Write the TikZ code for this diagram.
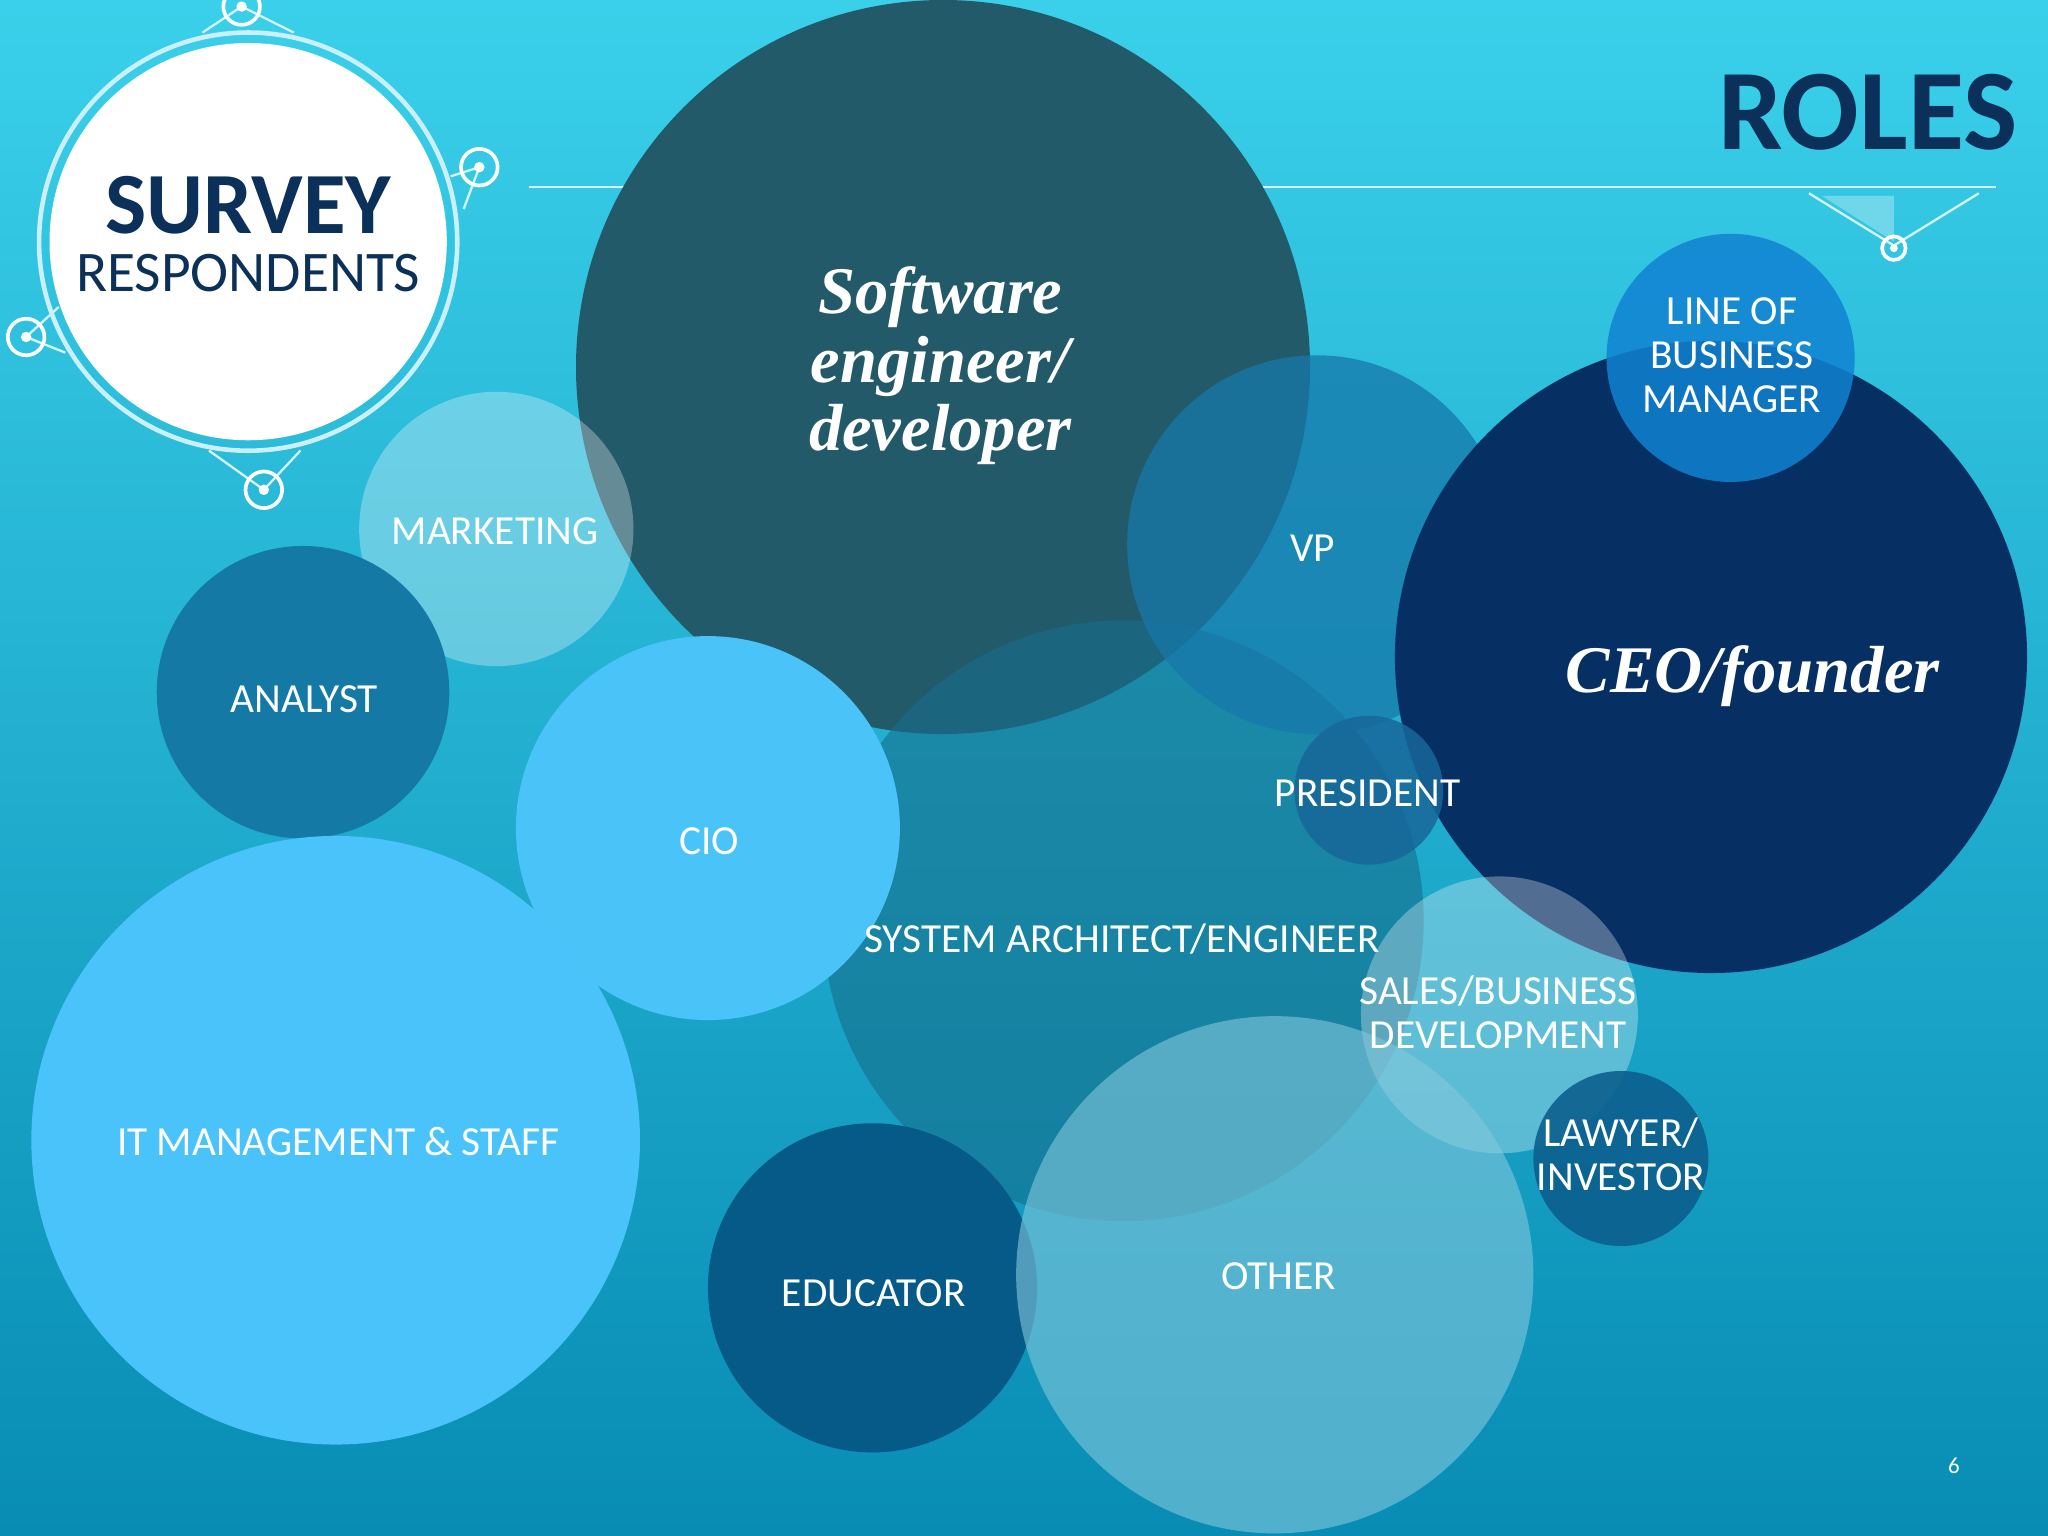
\documentclass[tikz,border=0pt]{standalone}
\usepackage{fontspec}
\setmainfont{Carlito}
\newfontfamily\serifbi{Liberation Serif}
\begin{document}
\begin{tikzpicture}[x=0.01cm,y=-0.01cm,
  lbl/.style={text=white,font=\fontsize{9}{9.5}\selectfont,align=center,inner sep=0pt},
  big/.style={text=white,font=\serifbi\bfseries\itshape\fontsize{14.5}{15}\selectfont,align=center,inner sep=0pt},
  deco/.style={draw=white!85!cyan,line width=0.5pt},
  dot/.style={draw=white,line width=0.8pt,fill=none}]
\newcommand\bub[4]{\fill[#4] (#1,#2) circle[radius=#3*0.01cm];}
\useasboundingbox (0,0) rectangle (1568,1176);
\shade[top color={rgb,255:red,58;green,208;blue,234},bottom color={rgb,255:red,8;green,140;blue,180}] (0,0) rectangle (1568,1176);
% lines
\draw[deco] (405,143) -- (1528,143);
\draw[deco] (1385,148) -- (1450,188) -- (1515,148);
\fill[white,opacity=0.3] (1395,150) -- (1450,185) -- (1450,150) -- cycle;
\draw[dot] (1450,190) circle[radius=0.09cm];
\fill[white] (1450,190) circle[radius=0.03cm];
% bubbles
\bub{722}{281}{281}{fill={rgb,255:red,35;green,90;blue,106}}
\bub{860}{705}{230}{fill={rgb,255:red,22;green,110;blue,140},opacity=0.6}
\bub{1008}{417}{145}{fill={rgb,255:red,22;green,120;blue,170},opacity=0.75}
\bub{1310}{503}{242}{fill={rgb,255:red,6;green,47;blue,100}}
\bub{1325}{274}{95}{fill={rgb,255:red,16;green,130;blue,210},opacity=0.85}
\bub{380}{405}{105}{fill=white,opacity=0.3}
\bub{232}{530}{112}{fill={rgb,255:red,20;green,122;blue,165}}
\bub{542}{634}{147}{fill={rgb,255:red,74;green,195;blue,248}}
\bub{1048}{605}{57}{fill={rgb,255:red,23;green,103;blue,154},opacity=0.85}
\bub{257}{873}{233}{fill={rgb,255:red,74;green,195;blue,251}}
\bub{1148}{777}{106}{fill=white,opacity=0.3}
\bub{1241}{887}{67}{fill={rgb,255:red,12;green,95;blue,142},opacity=0.9}
\bub{668}{986}{126}{fill={rgb,255:red,5;green,90;blue,136}}
\bub{976}{976}{198}{fill={rgb,255:red,130;green,200;blue,220},opacity=0.6}
% survey circle
\draw[deco] (185,5) -- (155,25);
\draw[deco] (185,5) -- (225,25);
\draw[deco] (367,128) -- (345,135);
\draw[deco] (367,128) -- (355,160);
\draw[deco] (20,258) -- (45,235);
\draw[deco] (20,258) -- (50,270);
\draw[deco] (202,375) -- (160,345);
\draw[deco] (202,375) -- (230,345);
\draw[white!80!cyan,line width=1pt] (190,185) circle[radius=1.6cm];
\fill[white] (190,185) circle[radius=1.52cm];
\foreach \p in {(185,5),(367,128),(20,258),(202,375)}{
  \draw[dot] \p circle[radius=0.14cm]; \fill[white] \p circle[radius=0.04cm];}
\node[text={rgb,255:red,11;green,48;blue,90},font=\bfseries\fontsize{19}{19}\selectfont,inner sep=0pt] (sv) at (190,157) {SURVEY};
\node[text={rgb,255:red,11;green,48;blue,90},font=\fontsize{12.5}{12.5}\selectfont,inner sep=0pt] (rs) at (190,209) {RESPONDENTS};
\node[text={rgb,255:red,11;green,48;blue,90},font=\bfseries\fontsize{25}{25}\selectfont,inner sep=0pt] (ro) at (1430,86) {ROLES};
% labels
\node[big] (se) at (720,280) {Software\\engineer/\\developer};
\node[big] (ceo) at (1342,518) {CEO/founder};
\node[lbl] (lob) at (1326,272) {LINE OF\\BUSINESS\\MANAGER};
\node[lbl] (vp) at (1005,420) {VP};
\node[lbl] (mk) at (379,407) {MARKETING};
\node[lbl] (an) at (233,535) {ANALYST};
\node[lbl] (cio) at (543,644) {CIO};
\node[lbl] (pr) at (1047,607) {PRESIDENT};
\node[lbl] (sa) at (859,719) {SYSTEM ARCHITECT/ENGINEER};
\node[lbl] (sb) at (1147,775) {SALES/BUSINESS\\DEVELOPMENT};
\node[lbl] (lw) at (1241,884) {LAWYER/\\INVESTOR};
\node[lbl] (it) at (259,874) {IT MANAGEMENT \& STAFF};
\node[lbl] (ed) at (669,990) {EDUCATOR};
\node[lbl] (ot) at (979,977) {OTHER};
\node[text=white,font=\fontsize{5}{5}\selectfont] (pg) at (1496,1122) {6};
\end{tikzpicture}
\end{document}
